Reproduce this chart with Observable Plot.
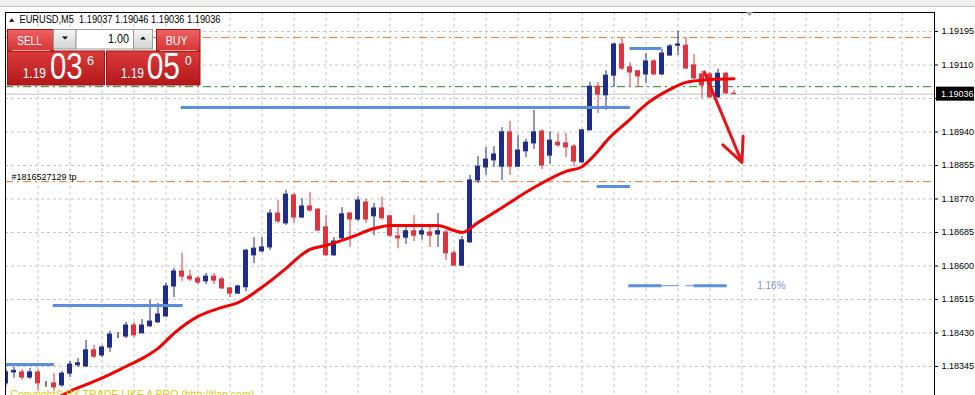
<!DOCTYPE html>
<html>
<head>
<meta charset="utf-8">
<script src="https://cdn.jsdelivr.net/npm/d3@7"></script>
<script src="https://cdn.jsdelivr.net/npm/@observablehq/plot@0.6"></script>
<style>
html, body { margin: 0; padding: 0; background: #fff; }
#wrap { position: relative; width: 975px; height: 395px; overflow: hidden; }
</style>
</head>
<body>
<div id="wrap"></div>
<script>
// ---------- data ----------
const symbol = "EURUSD";
const timeframe = "M5";

const open = [
  1.18302,1.18330,1.18330,1.18317,1.18330,1.18302,1.18302,1.18297,1.18327,1.18348,
  1.18345,1.18386,1.18373,1.18393,1.18424,1.18421,1.18449,1.18429,1.18447,1.18457,
  1.18472,1.18548,1.18586,1.18573,1.18568,1.18561,1.18573,1.18566,1.18543,1.18530,
  1.18546,1.18627,1.18637,1.18647,1.18733,1.18708,1.18779,1.18723,1.18751,1.18743,
  1.18698,1.18627,1.18670,1.18733,1.18718,1.18761,1.18726,1.18746,1.18726,1.18675,
  1.18672,1.18688,1.18680,1.18685,1.18680,1.18685,1.18632,1.18601,1.18660,1.18817,
  1.18850,1.18868,1.18852,1.18939,1.18852,1.18891,1.18911,1.18941,1.18880,1.18913,
  1.18911,1.18903,1.18863,1.18944,1.19055,1.19033,1.19083,1.19162,1.19104,1.19094,
  1.19086,1.19119,1.19086,1.19134,1.19159,1.19159,1.19109,1.19086,1.19086,1.19028,
  1.19088,1.19037];
const high = [
  1.18337,1.18343,1.18337,1.18340,1.18337,1.18307,1.18327,1.18332,1.18358,1.18365,
  1.18411,1.18398,1.18398,1.18434,1.18431,1.18457,1.18457,1.18464,1.18513,1.18505,
  1.18556,1.18594,1.18632,1.18589,1.18573,1.18581,1.18581,1.18571,1.18546,1.18551,
  1.18642,1.18672,1.18672,1.18743,1.18766,1.18792,1.18784,1.18771,1.18787,1.18746,
  1.18728,1.18672,1.18748,1.18736,1.18776,1.18769,1.18759,1.18774,1.18728,1.18698,
  1.18698,1.18728,1.18698,1.18698,1.18733,1.18690,1.18639,1.18675,1.18830,1.18878,
  1.18901,1.18903,1.18951,1.18967,1.18931,1.18921,1.18995,1.18946,1.18941,1.18936,
  1.18936,1.18908,1.18946,1.19066,1.19066,1.19096,1.19165,1.19177,1.19116,1.19096,
  1.19139,1.19124,1.19149,1.19162,1.19196,1.19180,1.19137,1.19094,1.19091,1.19099,
  1.19091,1.19046];
const low = [
  1.18294,1.18315,1.18310,1.18312,1.18284,1.18292,1.18282,1.18292,1.18317,1.18343,
  1.18343,1.18365,1.18368,1.18381,1.18416,1.18416,1.18419,1.18429,1.18444,1.18454,
  1.18469,1.18520,1.18561,1.18561,1.18553,1.18553,1.18553,1.18540,1.18520,1.18528,
  1.18535,1.18606,1.18634,1.18639,1.18708,1.18703,1.18708,1.18721,1.18736,1.18688,
  1.18624,1.18624,1.18667,1.18647,1.18713,1.18708,1.18677,1.18716,1.18672,1.18644,
  1.18655,1.18662,1.18665,1.18647,1.18647,1.18614,1.18599,1.18599,1.18657,1.18809,
  1.18830,1.18850,1.18817,1.18830,1.18850,1.18875,1.18896,1.18845,1.18858,1.18901,
  1.18875,1.18852,1.18860,1.18944,1.18987,1.18995,1.19053,1.19096,1.19053,1.19053,
  1.19063,1.19083,1.19083,1.19132,1.19134,1.19099,1.19071,1.19025,1.19025,1.19025,
  1.19035,1.19036];
const close = [
  1.18330,1.18334,1.18317,1.18330,1.18302,1.18302,1.18292,1.18327,1.18350,1.18353,
  1.18386,1.18370,1.18393,1.18426,1.18424,1.18449,1.18424,1.18449,1.18459,1.18477,
  1.18548,1.18586,1.18573,1.18566,1.18558,1.18573,1.18563,1.18543,1.18530,1.18548,
  1.18639,1.18644,1.18647,1.18733,1.18713,1.18781,1.18723,1.18751,1.18741,1.18690,
  1.18627,1.18662,1.18731,1.18718,1.18766,1.18718,1.18746,1.18721,1.18677,1.18670,
  1.18688,1.18677,1.18688,1.18677,1.18688,1.18632,1.18601,1.18665,1.18817,1.18852,
  1.18870,1.18883,1.18939,1.18852,1.18893,1.18913,1.18939,1.18855,1.18918,1.18906,
  1.18901,1.18865,1.18944,1.19055,1.19035,1.19083,1.19162,1.19101,1.19091,1.19081,
  1.19119,1.19086,1.19139,1.19157,1.19162,1.19101,1.19076,1.19058,1.19028,1.19088,
  1.19038,1.19036];

// moving average (red line), read at these candle positions
const maIndex = [6,8,10,13,15,17,19,21,24,27,29,32,35,37,38,40,43,46,48,54,56,57,59,62,66,70,72,74,75,78,80,83,85,88,91];
const maValue = [1.18261,1.18282,1.18299,1.18325,1.18345,1.18365,1.18391,1.18429,1.18472,1.18495,
                 1.18507,1.18546,1.18594,1.18629,1.18642,1.18652,1.18672,1.18695,1.18703,1.18703,
                 1.18690,1.18685,1.18710,1.18748,1.18799,1.18840,1.18852,1.18891,1.18916,1.18972,
                 1.19010,1.19048,1.19066,1.19073,1.19075];

// price axis ticks (1.19025 sits under the current-price box)
const yTicks = [1.19195,1.19110,1.19025,1.18940,1.18855,1.18770,1.18685,1.18600,1.18515,1.18430,1.18345];
const hiddenTick = 1.19025;
const gridIndex = [4,8,12,16,20,24,28,32,36,40,44,48,52,56,60,64,68,72,76,80,84,88,92,96,100,104,108,112];

// blue level segments
const levelPrice = [1.18350, 1.18500, 1.19002, 1.19152, 1.18802];
const levelFrom  = [-0.5, 5.9, 21.9, 78.0, 73.9];
const levelTo    = [6.06, 22.15, 78.06, 82.0, 78.06];
// measured range line with label
const rangePrice = 1.18550;
const rangeThickFrom = [77.85, 86.0], rangeThickTo = [82.0, 90.15];
const rangeThinFrom  = [82.0, 85.0],  rangeThinTo  = [84.2, 86.0];
const rangeLabel = "1.16%", rangeLabelIndex = 93.9;

// order lines
const stopLoss = 1.19180, entry = 1.19055, takeProfit = 1.18814;
const ticket = "#1816527129";
const bid = 1.19036, ask = 1.19050, lots = "1.00";

// red arrow
const arrowX1 = [87.3], arrowY1 = [1.19092], arrowX2 = [92.0], arrowY2 = [1.18863];

const copyright = "Copyright\u00a9 BY TRADE LIKE A PRO (http://tlap.com)";

// ---------- build ----------
const bull = "#1f2c8e", bear = "#e3323f", doji = "#000000";
const candles = open.map((o, i) => ({k: i, open: o, high: high[i], low: low[i], close: close[i]}));
const colorOf = d => d.close > d.open ? bull : d.close < d.open ? bear : doji;
const ma = maIndex.map((k, i) => ({k, v: maValue[i]}));
const levels = levelPrice.map((p, i) => ({price: p, from: levelFrom[i], to: levelTo[i]}));
const thick = rangeThickFrom.map((f, i) => ({from: f, to: rangeThickTo[i], price: rangePrice}));
const thin = rangeThinFrom.map((f, i) => ({from: f, to: rangeThinTo[i], price: rangePrice}));
const arrows = arrowX1.map((x, i) => ({x1: x, y1: arrowY1[i], x2: arrowX2[i], y2: arrowY2[i]}));

const xDomain = [-0.0625, 116.0625];
const yDomain = [1.182714, 1.192432];
const fmt5 = d3.format(".5f");
const grid = {stroke: "#c6c6c6", strokeOpacity: 1, strokeDasharray: "3,3"};

const chart = Plot.plot({
  width: 975, height: 395,
  marginLeft: 5, marginRight: 41, marginTop: 12, marginBottom: 0,
  x: {domain: xDomain, axis: null},
  y: {domain: yDomain},
  color: {type: "identity"},
  style: {fontFamily: "'Liberation Sans', Arial, sans-serif", fontSize: "9px", background: "#fff", color: "#000", overflow: "visible"},
  marks: [
    Plot.gridY(yTicks, grid),
    Plot.gridX(gridIndex, grid),
    Plot.ruleY([bid], {stroke: "#c0c0c0"}),
    Plot.ruleY([stopLoss, takeProfit], {stroke: "#dd7a35", strokeDasharray: "8,4,2,4"}),
    Plot.ruleY([entry], {stroke: "#1e8a1e", strokeDasharray: "8,4,2,4"}),
    Plot.ruleX(candles, {x: "k", y1: "low", y2: "high", stroke: colorOf, clip: true}),
    Plot.rect(candles, {x1: d => d.k - 0.25, x2: d => d.k + 0.25, y1: "open", y2: "close", fill: colorOf, stroke: colorOf, strokeWidth: 1, clip: true}),
    Plot.ruleY(levels, {y: "price", x1: "from", x2: "to", stroke: "#5b8ede", strokeWidth: 3, clip: true}),
    Plot.ruleY(thick, {y: "price", x1: "from", x2: "to", stroke: "#5b8ede", strokeWidth: 3}),
    Plot.ruleY(thin, {y: "price", x1: "from", x2: "to", stroke: "#5b8ede", strokeWidth: 1}),
    Plot.text([{t: rangeLabel, k: rangeLabelIndex, p: rangePrice}], {x: "k", y: "p", text: "t", textAnchor: "start", fill: "#7d97c7", fontSize: 10}),
    Plot.line(ma, {x: "k", y: "v", stroke: "#f00000", strokeWidth: 3, curve: "monotone-x", clip: true}),
    Plot.arrow(arrows, {x1: "x1", y1: "y1", x2: "x2", y2: "y2", stroke: "#e8141c", strokeWidth: 3, headLength: 13, headAngle: 50}),
    Plot.text([{t: ticket + " tp", p: takeProfit}], {frameAnchor: "left", y: "p", text: "t", textAnchor: "start", lineAnchor: "bottom", dx: 6, dy: -2, fill: "#000", fontSize: 9}),
    Plot.text([copyright], {frameAnchor: "bottom-left", text: d => d, textAnchor: "start", lineAnchor: "bottom", dx: 5, dy: 2, fill: "#dccb10", fontSize: 10.5}),
    Plot.ruleX([xDomain[0], xDomain[1]], {stroke: "#000"}),
    Plot.ruleY([yDomain[1]], {stroke: "#000"}),
    Plot.axisY(yTicks, {anchor: "right", tickFormat: d => d === hiddenTick ? "" : fmt5(d), tickSize: 3, tickPadding: 4, fontSize: 9, label: null})
  ]
});

document.getElementById("wrap").appendChild(chart);

// ---------- terminal decorations ----------
const svg = d3.select(chart);
const defs = svg.insert("defs", ":first-child");
function grad(id, a, b) {
  const g = defs.append("linearGradient").attr("id", id).attr("x1", 0).attr("y1", 0).attr("x2", 0).attr("y2", 1);
  g.append("stop").attr("offset", 0).attr("stop-color", a);
  g.append("stop").attr("offset", 1).attr("stop-color", b);
}
grad("redTab", "#ee6262", "#d63434");
grad("redLow", "#dc3a3a", "#b3181a");
grad("grayBtn", "#f7f7f7", "#d2d2d2");
const ui = svg.append("g")
  .attr("font-family", "'Liberation Sans', Arial, sans-serif")
  .attr("text-anchor", "start");
function box(x, y, w, h, fill, stroke) {
  return ui.append("rect").attr("x", x).attr("y", y).attr("width", w).attr("height", h).attr("fill", fill).attr("stroke", stroke || "none");
}
function txt(x, y, s, size, len, fill) {
  const t = ui.append("text").attr("x", x).attr("y", y).attr("text-anchor", "start")
    .attr("font-size", size).attr("fill", fill || "#fff").text(s);
  if (len) t.attr("textLength", len).attr("lengthAdjust", "spacingAndGlyphs");
  return t;
}
// toolbar strip
box(0, 0, 975, 6, "#f0f0f0");
ui.append("line").attr("x1", 0).attr("x2", 975).attr("y1", 6.5).attr("y2", 6.5).attr("stroke", "#c4c4c4");
// chart shift marker
ui.append("polygon").attr("points", "746,12 753,12 749.5,16").attr("fill", "#a0a0a0");

// title
const last = candles[candles.length - 1];
ui.append("polygon").attr("points", "9,21.7 11.7,18.3 14.4,21.7").attr("fill", "#000");
txt(19.5, 23, `${symbol},${timeframe}\u00a0 ${fmt5(last.open)} ${fmt5(last.high)} ${fmt5(last.low)} ${fmt5(last.close)}`, 10, 201, "#000");

// one-click trading panel
box(7.5, 51, 97, 34, "url(#redLow)", "#9c1616");
box(106.5, 51, 93.5, 34, "url(#redLow)", "#9c1616");
box(7.5, 29.5, 46, 21.5, "url(#redTab)", "#9c1616");
box(156.5, 29.5, 43.5, 21.5, "url(#redTab)", "#9c1616");
ui.append("line").attr("x1", 12).attr("x2", 50).attr("y1", 50.5).attr("y2", 50.5).attr("stroke", "#f3a5a5");
ui.append("line").attr("x1", 160).attr("x2", 197).attr("y1", 50.5).attr("y2", 50.5).attr("stroke", "#f3a5a5");
box(53.5, 29.5, 22.5, 19.5, "url(#grayBtn)", "#9a9a9a");
box(76, 29.5, 57.5, 19.5, "#fff", "#9a9a9a");
box(133.5, 29.5, 19, 19.5, "url(#grayBtn)", "#9a9a9a");
ui.append("polygon").attr("points", "62,36.5 68,36.5 65,39.5").attr("fill", "#000");
ui.append("polygon").attr("points", "140,39.5 146,39.5 143,36.5").attr("fill", "#000");
txt(17.3, 45, "SELL", 13, 24.4);
txt(165.7, 45, "BUY", 13, 22);
txt(108, 43, lots, 13, 21, "#000");
function parts(p) { const s = fmt5(p); return [s.slice(0, 4), s.slice(4, 6), s.slice(6)]; }
const sp = parts(bid), bp = parts(ask);
txt(22.7, 78.3, sp[0], 14, 23.3);
txt(50, 79.3, sp[1], 36, 32.7);
txt(87, 65, sp[2], 12, 7);
txt(120.7, 78.3, bp[0], 14, 23.3);
txt(146.7, 79.3, bp[1], 36, 33.3);
txt(185, 65, bp[2], 12, 6.7);

// current bid label on the price scale
const yb = chart.scale("y").apply(bid);
box(936, yb - 7, 38, 14, "#000");
txt(941, yb + 3.2, fmt5(bid), 9, null, "#fff");
</script>
</body>
</html>
